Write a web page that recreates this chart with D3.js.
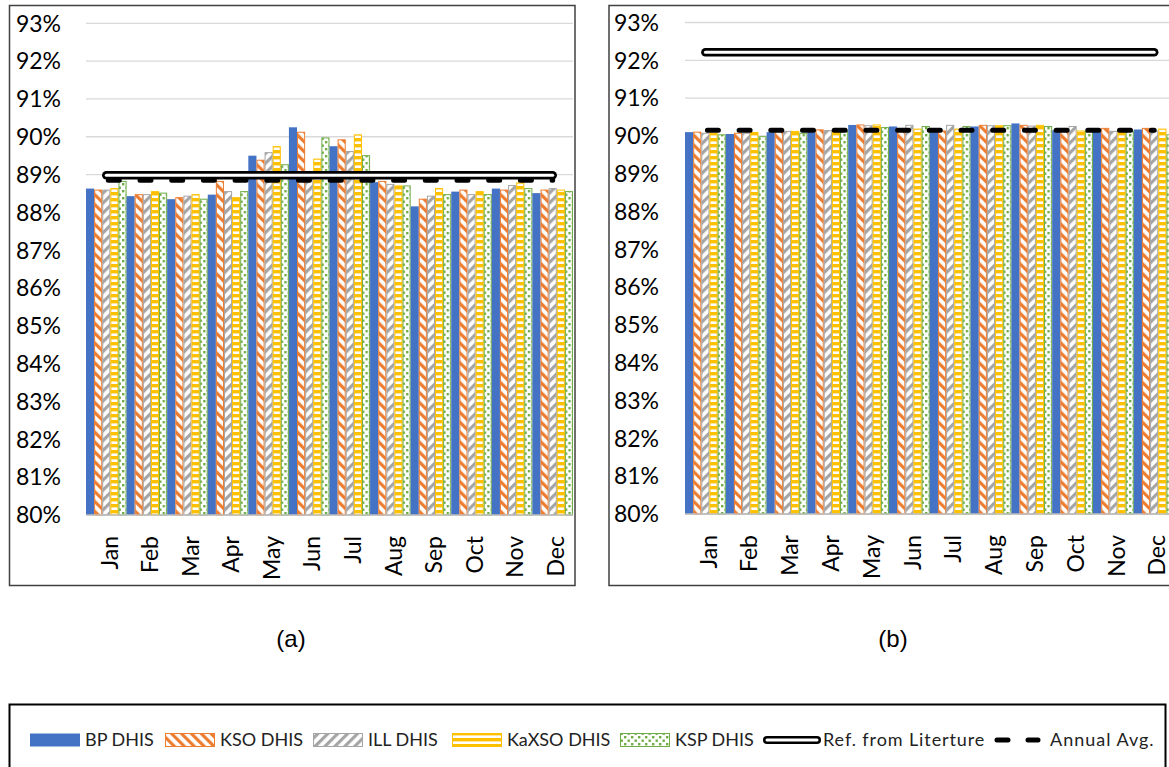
<!DOCTYPE html>
<html>
<head>
<meta charset="utf-8">
<script src="https://cdn.jsdelivr.net/npm/d3@7/dist/d3.min.js"></script>
<style>
  body { margin: 0; background: #fff; }
  svg { display: block; }
</style>
</head>
<body>
<div class="chart"></div>
<script>
const months = ["Jan", "Feb", "Mar", "Apr", "May", "Jun", "Jul", "Aug", "Sep", "Oct", "Nov", "Dec"];
const seriesNames = ["BP DHIS", "KSO DHIS", "ILL DHIS", "KaXSO DHIS", "KSP DHIS"];
const yTicks = [80, 81, 82, 83, 84, 85, 86, 87, 88, 89, 90, 91, 92, 93];

// panel (a)
const aBP    = [88.63, 88.43, 88.35, 88.47, 89.50, 90.25, 89.75, 88.80, 88.16, 88.55, 88.63, 88.51];
const aKSO   = [88.59, 88.47, 88.39, 88.82, 89.38, 90.12, 89.92, 88.82, 88.35, 88.59, 88.59, 88.59];
const aILL   = [88.59, 88.47, 88.43, 88.55, 89.58, 89.05, 89.61, 88.74, 88.43, 88.47, 88.71, 88.63];
const aKaXSO = [88.63, 88.55, 88.47, 88.39, 89.74, 89.41, 90.05, 88.70, 88.63, 88.55, 88.78, 88.59];
const aKSP   = [88.82, 88.51, 88.35, 88.55, 89.26, 89.97, 89.50, 88.70, 88.47, 88.47, 88.63, 88.55];
const aRef = 88.98;
const aAvg = 88.85;

// panel (b)
const bBP    = [90.10, 90.05, 90.10, 90.10, 90.29, 90.25, 90.15, 90.25, 90.33, 90.15, 90.17, 90.17];
const bKSO   = [90.10, 90.07, 90.12, 90.16, 90.29, 90.15, 90.13, 90.28, 90.28, 90.13, 90.20, 90.20];
const bILL   = [90.07, 90.07, 90.12, 90.14, 90.27, 90.28, 90.28, 90.27, 90.26, 90.25, 90.12, 90.13];
const bKaXSO = [90.07, 90.09, 90.12, 90.14, 90.29, 90.18, 90.18, 90.27, 90.28, 90.13, 90.13, 90.18];
const bKSP   = [90.03, 89.98, 90.07, 90.12, 90.22, 90.25, 90.25, 90.27, 90.25, 90.12, 90.12, 90.03];
const bRef = 92.21;
const bAvg = 90.15;

const W = 1169, H = 767;
const font = "Lato, 'Open Sans', sans-serif";
const colors = ["#4472C4", "#ED7D31", "#A5A5A5", "#FFC000", "#70AD47"];
const fills = ["#4472C4", "url(#pKSO)", "url(#pILL)", "url(#pKaXSO)", "url(#pKSP)"];

const svg = d3.select(".chart").append("svg")
    .attr("width", W)
    .attr("height", H)
    .style("background", "#fff");

// bar patterns
const defs = svg.append("defs");
function stripes(id, color, angle) {
    const p = defs.append("pattern")
        .attr("id", id)
        .attr("patternUnits", "userSpaceOnUse")
        .attr("width", 7)
        .attr("height", 7)
        .attr("patternTransform", `rotate(${angle})`);
    p.append("rect").attr("width", 7).attr("height", 7).attr("fill", "#fff");
    p.append("rect").attr("width", 3.2).attr("height", 7).attr("fill", color);
}
stripes("pKSO", colors[1], -45);
stripes("pILL", colors[2], 45);

const pY = defs.append("pattern")
    .attr("id", "pKaXSO")
    .attr("patternUnits", "userSpaceOnUse")
    .attr("width", 6)
    .attr("height", 6);
pY.append("rect").attr("width", 6).attr("height", 6).attr("fill", "#fff");
pY.append("rect").attr("width", 6).attr("height", 3.4).attr("fill", colors[3]);

const pG = defs.append("pattern")
    .attr("id", "pKSP")
    .attr("patternUnits", "userSpaceOnUse")
    .attr("width", 7)
    .attr("height", 7);
pG.append("rect").attr("width", 7).attr("height", 7).attr("fill", "#fff");
pG.append("rect").attr("x", 1).attr("y", 1).attr("width", 2.4).attr("height", 2.4).attr("fill", colors[4]);
pG.append("rect").attr("x", 4.5).attr("y", 4.5).attr("width", 2.4).attr("height", 2.4).attr("fill", colors[4]);

function drawPanel(cfg) {
    const g = svg.append("g");

    g.append("rect")
        .attr("x", cfg.box[0])
        .attr("y", cfg.box[1])
        .attr("width", cfg.box[2])
        .attr("height", cfg.box[3])
        .attr("fill", "#fff")
        .attr("stroke", "#404040")
        .attr("stroke-width", 1.5);

    const x = d3.scaleBand().domain(months).range([cfg.x0, cfg.x1]).padding(0);
    const xs = d3.scaleBand().domain(seriesNames).range([0, x.bandwidth()]).padding(0);
    const y = d3.scaleLinear().domain([80, 93]).range([cfg.yb, cfg.yt]);

    // gridlines
    g.append("g")
        .selectAll("line")
        .data(yTicks)
        .join("line")
        .attr("x1", cfg.x0)
        .attr("x2", cfg.x1)
        .attr("y1", d => y(d))
        .attr("y2", d => y(d))
        .attr("stroke", "#D9D9D9")
        .attr("stroke-width", 1.3);

    // y labels
    g.append("g")
        .selectAll("text")
        .data(yTicks)
        .join("text")
        .attr("x", cfg.yLabelX)
        .attr("y", d => y(d))
        .attr("dy", "0.36em")
        .attr("text-anchor", "end")
        .attr("font-family", font)
        .attr("font-size", 23)
        .attr("fill", "#000")
        .text(d => d + "%");

    // bars
    const rows = months.map((m, i) => ({ m, vals: cfg.series.map(s => s[i]) }));
    const grp = g.append("g")
        .selectAll("g")
        .data(rows)
        .join("g")
        .attr("transform", d => `translate(${x(d.m)},0)`);
    grp.selectAll("rect")
        .data(d => d.vals.map((v, k) => ({ v, k })))
        .join("rect")
        .attr("x", d => xs(seriesNames[d.k]) + (d.k === 0 ? 0 : 0.5))
        .attr("width", d => xs.bandwidth() - (d.k === 0 ? 0 : 1))
        .attr("y", d => y(d.v))
        .attr("height", d => y(80) - y(d.v))
        .attr("fill", d => fills[d.k])
        .attr("stroke", d => d.k === 0 ? "none" : colors[d.k])
        .attr("stroke-width", 1);

    // x axis line
    g.append("line")
        .attr("x1", cfg.x0)
        .attr("x2", cfg.x1)
        .attr("y1", y(80))
        .attr("y2", y(80))
        .attr("stroke", "#BFBFBF")
        .attr("stroke-width", 1.3);

    // x labels
    g.append("g")
        .selectAll("text")
        .data(months)
        .join("text")
        .attr("transform", d => `translate(${x(d) + x.bandwidth() / 2 + 3},${y(80) + 21}) rotate(-90)`)
        .attr("dy", "0.36em")
        .attr("text-anchor", "end")
        .attr("font-family", font)
        .attr("font-size", 23)
        .attr("fill", "#000")
        .text(d => d);

    const xa = x(months[0]) + x.bandwidth() / 2;
    const xb = x(months[11]) + x.bandwidth() / 2;

    // annual average
    g.append("line")
        .attr("x1", xa + 2)
        .attr("x2", xb)
        .attr("y1", y(cfg.avg))
        .attr("y2", y(cfg.avg))
        .attr("stroke", "#000")
        .attr("stroke-width", 5)
        .attr("stroke-linecap", "round")
        .attr("stroke-dasharray", "11,20.7");

    // reference from literature (compound line)
    g.append("line")
        .attr("x1", xa)
        .attr("x2", xb)
        .attr("y1", y(cfg.ref))
        .attr("y2", y(cfg.ref))
        .attr("stroke", "#000")
        .attr("stroke-width", 8.5)
        .attr("stroke-linecap", "round");
    g.append("line")
        .attr("x1", xa)
        .attr("x2", xb)
        .attr("y1", y(cfg.ref))
        .attr("y2", y(cfg.ref))
        .attr("stroke", "#fff")
        .attr("stroke-width", 3)
        .attr("stroke-linecap", "round");

    // caption
    svg.append("text")
        .attr("x", cfg.capX)
        .attr("y", 638)
        .attr("dy", "0.36em")
        .attr("text-anchor", "middle")
        .attr("font-family", "'Liberation Sans', Arial, sans-serif")
        .attr("font-size", 24)
        .attr("fill", "#000")
        .text(cfg.caption);
}

drawPanel({
    box: [9.5, 5.5, 565.5, 580],
    x0: 86, x1: 573, yt: 23.3, yb: 515,
    yLabelX: 61,
    series: [aBP, aKSO, aILL, aKaXSO, aKSP],
    ref: aRef, avg: aAvg,
    capX: 291, caption: "(a)"
});
drawPanel({
    box: [609, 5.5, 580, 580],
    x0: 685, x1: 1174.6, yt: 22.5, yb: 514,
    yLabelX: 659,
    series: [bBP, bKSO, bILL, bKaXSO, bKSP],
    ref: bRef, avg: bAvg,
    capX: 893, caption: "(b)"
});

// legend
const lg = svg.append("g");
lg.append("rect")
    .attr("x", 9.5)
    .attr("y", 704.5)
    .attr("width", 1156)
    .attr("height", 80)
    .attr("fill", "#fff")
    .attr("stroke", "#000")
    .attr("stroke-width", 2);

const ly = 740;
const swatchX = [30, 165, 313, 452, 620];
seriesNames.forEach((name, k) => {
    lg.append("rect")
        .attr("x", swatchX[k] + (k === 0 ? 0 : 0.5))
        .attr("y", ly - 6.5)
        .attr("width", 50 - (k === 0 ? 0 : 1))
        .attr("height", 13)
        .attr("fill", fills[k])
        .attr("stroke", k === 0 ? "none" : colors[k]);
    lg.append("text")
        .attr("x", swatchX[k] + 55)
        .attr("y", ly)
        .attr("dy", "0.36em")
        .attr("font-family", font)
        .attr("font-size", 18)
        .attr("fill", "#222")
        .text(name);
});

// ref swatch
lg.append("line")
    .attr("x1", 767).attr("x2", 817)
    .attr("y1", ly).attr("y2", ly)
    .attr("stroke", "#000").attr("stroke-width", 8).attr("stroke-linecap", "round");
lg.append("line")
    .attr("x1", 767).attr("x2", 817)
    .attr("y1", ly).attr("y2", ly)
    .attr("stroke", "#fff").attr("stroke-width", 3).attr("stroke-linecap", "round");
lg.append("text")
    .attr("x", 823)
    .attr("y", ly)
    .attr("dy", "0.36em")
    .attr("font-family", font)
    .attr("font-size", 18)
    .attr("letter-spacing", 0.9)
    .attr("fill", "#222")
    .text("Ref. from Literture");

// avg swatch
lg.append("line")
    .attr("x1", 997).attr("x2", 1038)
    .attr("y1", ly).attr("y2", ly)
    .attr("stroke", "#000").attr("stroke-width", 5).attr("stroke-linecap", "round")
    .attr("stroke-dasharray", "11,20");
lg.append("text")
    .attr("x", 1050)
    .attr("y", ly)
    .attr("dy", "0.36em")
    .attr("font-family", font)
    .attr("font-size", 18)
    .attr("letter-spacing", 1)
    .attr("fill", "#222")
    .text("Annual Avg.");
</script>
</body>
</html>
